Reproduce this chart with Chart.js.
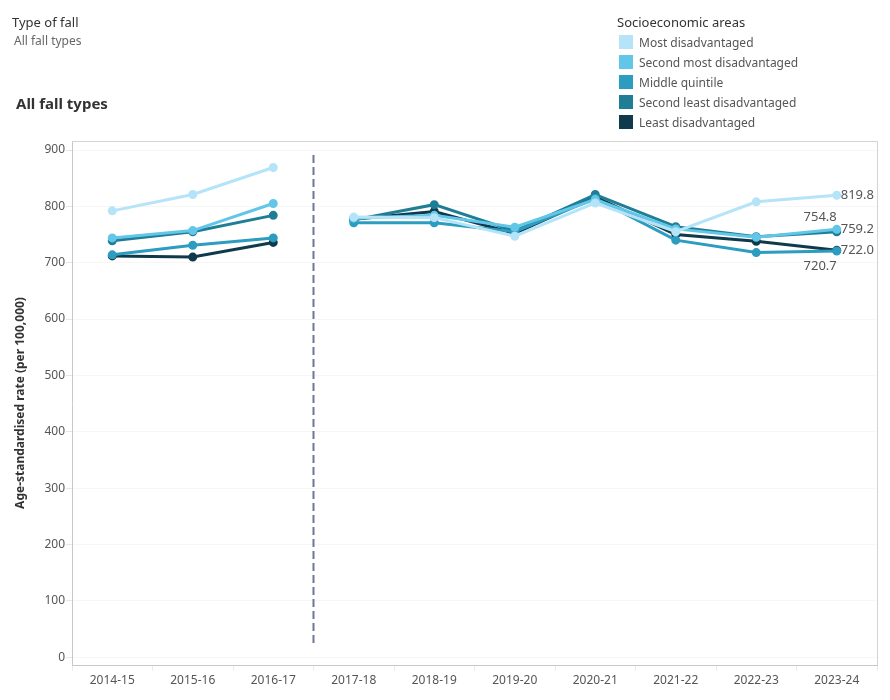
<!DOCTYPE html>
<html>
<head>
<meta charset="utf-8">
<script src="https://cdn.jsdelivr.net/npm/chart.js@4"></script>
<style>
  body { margin: 0; background: #fff; font-family: "Noto Sans", sans-serif; }
  #wrap { position: relative; width: 890px; height: 700px; }
  #chart { position: absolute; left: 0; top: 0; }
  .filter-title { position: absolute; left: 12px; top: 13px; font-size: 13px; color: #333; }
  .filter-value { position: absolute; left: 14px; top: 32px; font-size: 12px; color: #666; }
  .heading { position: absolute; left: 16px; top: 93px; font-size: 15px; font-weight: bold; color: #333; }
  .legend { position: absolute; left: 617px; top: 13px; font-size: 12px; color: #555; }
  .legend .lt { font-size: 13px; color: #333; margin-bottom: 1px; }
  .legend .item { height: 20px; display: flex; align-items: center; }
  .legend .sw { width: 14px; height: 14px; margin: 0 6px 0 2px; }
</style>
</head>
<body>
<div id="wrap">
  <canvas id="chart" width="890" height="700"></canvas>
  <div class="filter-title">Type of fall</div>
  <div class="filter-value">All fall types</div>
  <div class="heading">All fall types</div>
  <div class="legend" id="legend"><div class="lt">Socioeconomic areas</div></div>
</div>
<script>
var years = ["2014-15", "2015-16", "2016-17", "2017-18", "2018-19", "2019-20", "2020-21", "2021-22", "2022-23", "2023-24"];
var groups = ["Most disadvantaged", "Second most disadvantaged", "Middle quintile", "Second least disadvantaged", "Least disadvantaged"];
var colors = ["#b5e4f8", "#62c6e8", "#2c9cc0", "#1f7e96", "#0e3a4c"];

var mostDisadv = [792, 821, 869, 781, 780, 747, 806, 755, 808, 819.8];
var secondMost = [744, 757, 805, 779, 784, 763, 812, 760, 745, 759.2];
var middle = [714, 731, 744, 771, 771, 755, 814, 740, 718, 720.7];
var secondLeast = [739, 755, 784, 776, 803, 756, 821, 764, 746, 754.8];
var leastDisadv = [712, 710, 736, 777, 791, 752, 817, 750, 738, 722.0];
var seriesValues = [mostDisadv, secondMost, middle, secondLeast, leastDisadv];

var yTicks = [0, 100, 200, 300, 400, 500, 600, 700, 800, 900];
var breakAfter = 2; // method change between 2016-17 and 2017-18

// label placement for the last point of each series
var labelPos = ["right", "right", "below", "above", "right"];

var legend = document.getElementById("legend");
groups.forEach(function (g, i) {
    var d = document.createElement("div");
    d.className = "item";
    d.innerHTML = '<span class="sw" style="background:' + colors[i] + '"></span>' + g;
    legend.appendChild(d);
});

var breakLine = {
    id: "breakLine",
    afterDatasetsDraw: function (chart) {
        var x = chart.scales.x.getPixelForValue(breakAfter + 0.5);
        var a = chart.chartArea, c = chart.ctx;
        c.save();
        c.strokeStyle = "#6a7896";
        c.lineWidth = 2;
        c.setLineDash([8, 4]);
        c.beginPath();
        c.moveTo(x, a.top + 14);
        c.lineTo(x, a.bottom - 20);
        c.stroke();
        c.restore();
    }
};

var endLabels = {
    id: "endLabels",
    afterDatasetsDraw: function (chart) {
        var c = chart.ctx;
        c.save();
        c.font = "13px 'Noto Sans', sans-serif";
        c.fillStyle = "#555";
        chart.data.datasets.forEach(function (ds, i) {
            var pt = chart.getDatasetMeta(i).data[ds.data.length - 1];
            var txt = ds.data[ds.data.length - 1].toFixed(1);
            var pos = labelPos[i];
            if (pos === "right") {
                c.textAlign = "left"; c.textBaseline = "middle";
                c.fillText(txt, pt.x + 4, pt.y);
            } else if (pos === "above") {
                c.textAlign = "right"; c.textBaseline = "bottom";
                c.fillText(txt, pt.x, pt.y - 8);
            } else {
                c.textAlign = "right"; c.textBaseline = "top";
                c.fillText(txt, pt.x, pt.y + 9);
            }
        });
        c.restore();
    }
};

var ctx = document.getElementById("chart");
var myChart = new Chart(ctx, {
    type: 'line',
    data: {
        labels: years,
        datasets: groups.map(function (g, i) {
            return {
                label: g,
                data: seriesValues[i],
                borderColor: colors[i],
                backgroundColor: colors[i],
                borderWidth: 3,
                pointRadius: 3,
                pointHoverRadius: 3,
                tension: 0,
                segment: {
                    borderColor: function (s) { return s.p0DataIndex === breakAfter ? 'rgba(0,0,0,0)' : undefined; }
                }
            };
        })
    },
    options: {
        responsive: false,
        animation: false,
        layout: { padding: { top: 141, right: 13, left: 13, bottom: 0 } },
        plugins: {
            legend: { display: false },
            tooltip: { enabled: false }
        },
        scales: {
            x: {
                offset: true,
                afterFit: function (s) { s.height = 35; },
                border: { color: '#c8c8c8' },
                grid: { drawOnChartArea: false, drawTicks: true, tickLength: 6, color: '#ececec', offset: true },
                ticks: { color: '#555', font: { family: 'Noto Sans', size: 12 }, maxRotation: 0, padding: 2 }
            },
            y: {
                min: -14,
                max: 916,
                afterFit: function (s) { s.width = 59; },
                afterBuildTicks: function (s) { s.ticks = yTicks.map(function (v) { return { value: v }; }); },
                border: { color: '#c8c8c8' },
                grid: { color: '#f6f6f6', tickLength: 6, tickColor: '#e6e6e6' },
                ticks: { color: '#555', font: { family: 'Noto Sans', size: 12 }, padding: 1 },
                title: {
                    display: true,
                    text: 'Age-standardised rate (per 100,000)',
                    color: '#333',
                    font: { family: 'Noto Sans', size: 12, weight: 'bold' },
                    padding: { top: 0, bottom: 4 }
                }
            }
        }
    },
    plugins: [breakLine, endLabels, {
        id: 'frame',
        afterDraw: function (chart) {
            var a = chart.chartArea, c = chart.ctx;
            c.save();
            c.strokeStyle = '#d4d4d4';
            c.lineWidth = 1;
            c.beginPath();
            c.moveTo(a.left, a.top + 0.5); c.lineTo(a.right + 0.5, a.top + 0.5); c.lineTo(a.right + 0.5, a.bottom);
            c.stroke();
            c.restore();
        }
    }]
});
</script>
</body>
</html>
